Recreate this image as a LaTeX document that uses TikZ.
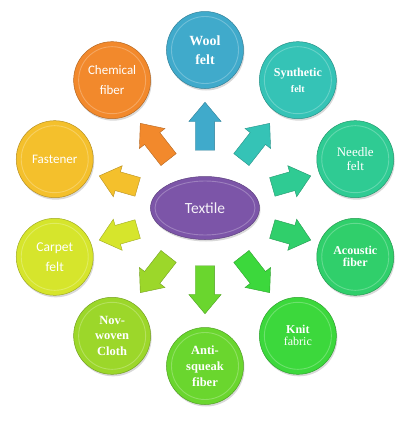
\documentclass[tikz,border=0pt]{standalone}
\usepackage{fontspec}
\setmainfont{Liberation Serif}
\newfontfamily\calib{Carlito}
\usetikzlibrary{shapes.geometric,shapes.arrows,shadows}

\definecolor{woolc}{HTML}{40AACB}
\definecolor{synthc}{HTML}{35C3B6}
\definecolor{needlec}{HTML}{2FCB93}
\definecolor{acoustc}{HTML}{30CF6B}
\definecolor{knitc}{HTML}{3CD83C}
\definecolor{antic}{HTML}{6AD62E}
\definecolor{novc}{HTML}{9CD72A}
\definecolor{carpetc}{HTML}{D6E52C}
\definecolor{fastc}{HTML}{F4C02C}
\definecolor{chemc}{HTML}{F2892C}
\definecolor{textc}{HTML}{7C55A8}

\begin{document}
\begin{tikzpicture}[x=1pt,y=1pt,
  bubble/.style={circle, fill=#1, draw=#1!75!black, line width=0.5pt, minimum size=77pt, inner sep=0pt,
    text=white, align=center, drop shadow={shadow xshift=1pt, shadow yshift=-2pt, opacity=0.3},
    path picture={\draw[#1!75!white, line width=0.9pt] (path picture bounding box.center) circle (33.5pt);}},
  hub/.style={ellipse, fill=#1, draw=#1!75!black, line width=0.5pt, minimum width=109pt, minimum height=63pt,
    inner sep=0pt, text=white!92!#1, drop shadow={shadow xshift=1pt, shadow yshift=-2pt, opacity=0.3},
    path picture={\draw[#1!75!white, line width=0.9pt] (path picture bounding box.center) ellipse (50pt and 27pt);}},
  blockarrow/.style={single arrow, fill=#1, draw=#1!75!black, line width=0.4pt, inner xsep=0pt, inner ysep=9.5pt,
    single arrow head extend=6.5pt, single arrow tip angle=80}]
\useasboundingbox (-205,-213) rectangle (204,208);

\node [hub=textc, font=\calib\fontsize{15.5}{18}\selectfont] (textile) at (0,0) {Textile};

\node [blockarrow=woolc, minimum height=48pt, rotate=90] (a1) at (0,76) {};
\node [blockarrow=synthc, minimum height=46pt, rotate=52] (a2) at (47,62) {};
\node [blockarrow=needlec, minimum height=40pt, rotate=16] (a3) at (81,25) {};
\node [blockarrow=acoustc, minimum height=40pt, rotate=-16] (a4) at (81,-25) {};
\node [blockarrow=knitc, minimum height=46pt, rotate=-52] (a5) at (47,-62) {};
\node [blockarrow=antic, minimum height=48pt, rotate=-90] (a6) at (0,-76) {};
\node [blockarrow=novc, minimum height=46pt, rotate=-128] (a7) at (-47,-62) {};
\node [blockarrow=carpetc, minimum height=40pt, rotate=-164] (a8) at (-81,-25) {};
\node [blockarrow=fastc, minimum height=40pt, rotate=164] (a9) at (-81,25) {};
\node [blockarrow=chemc, minimum height=46pt, rotate=128] (a10) at (-47,62) {};

\node [bubble=woolc, font=\bfseries\fontsize{14}{19}\selectfont] (wool) at (90:158pt) {Wool\\felt};
\node [bubble=synthc, font=\bfseries\fontsize{12}{16}\selectfont] (synth) at (54:158pt) {Synthetic\\{\fontsize{10}{16}\selectfont felt}};
\node [bubble=needlec, font=\fontsize{13}{14}\selectfont] (needle) at (18:158pt) {Needle\\felt};
\node [bubble=acoustc, font=\bfseries\fontsize{12}{12}\selectfont] (acoust) at (-18:158pt) {Acoustic\\fiber};
\node [bubble=knitc, font=\fontsize{12}{12}\selectfont] (knit) at (-54:158pt) {\textbf{Knit}\\fabric};
\node [bubble=antic, font=\bfseries\fontsize{12.5}{16}\selectfont] (anti) at (-90:158pt) {Anti-\\squeak\\fiber};
\node [bubble=novc, font=\bfseries\fontsize{12.5}{15.5}\selectfont] (nov) at (-126:158pt) {Nov-\\woven\\Cloth};
\node [bubble=carpetc, font=\calib\fontsize{13.5}{20}\selectfont] (carpet) at (-162:158pt) {Carpet\\felt};
\node [bubble=fastc, font=\calib\fontsize{13}{16}\selectfont] (fast) at (162:158pt) {Fastener};
\node [bubble=chemc, font=\calib\fontsize{13}{20}\selectfont] (chem) at (126:158pt) {Chemical\\fiber};

\end{tikzpicture}
\end{document}
